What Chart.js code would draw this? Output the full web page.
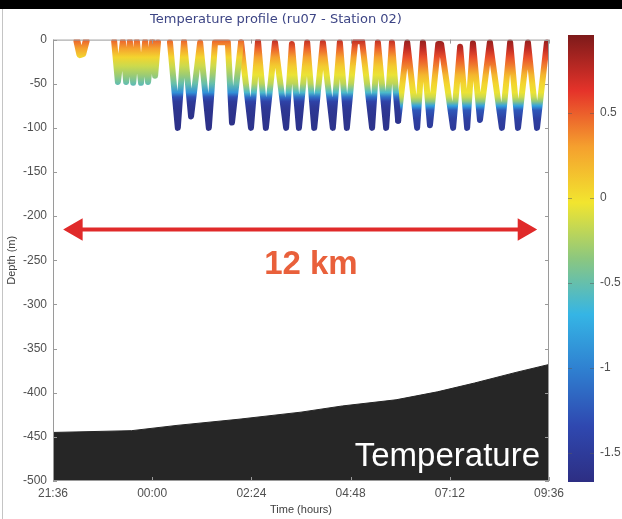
<!DOCTYPE html>
<html>
<head>
<meta charset="utf-8">
<script src="https://cdn.jsdelivr.net/npm/chart.js@4.4.1/dist/chart.umd.min.js"></script>
<style>
body { margin: 0; background: #fff; }
#wrap { position: relative; width: 622px; height: 519px; overflow: hidden; }
#plot { position: absolute; left: 0; top: 0; }
#bar { position: absolute; left: 560px; top: 0; }
#topbar { position: absolute; left: 0; top: 0; width: 622px; height: 9px; background: #000; }
#edge { position: absolute; left: 2px; top: 9px; width: 1px; height: 510px; background: #c4c4c4; }
</style>
</head>
<body>
<div id="wrap">
  <canvas id="plot" width="622" height="519"></canvas>
  <canvas id="bar" width="62" height="519"></canvas>
  <div id="edge"></div>
  <div id="topbar"></div>
</div>
<script>
// time axis: hours after 21:36
const START_CLOCK = 21 * 60 + 36;

// sea floor (black area)
const seafloorHours = [0, 1.9, 3, 4.5, 6, 7, 8.3, 9.3, 10.2, 11.2, 12];
const seafloorDepth = [-445, -443, -437, -430, -422, -415, -408, -399, -389, -377, -368];

// glider track, turning points
const blobHours = [0.58, 0.65, 0.72, 0.80];
const blobDepth = [-2, -17, -16, -2];

const shallowHours = [1.48, 1.57, 1.69, 1.77, 1.86, 1.94, 2.03, 2.13, 2.23, 2.30, 2.40, 2.47, 2.54];
const shallowDepth = [-2, -48, -2, -48, -2, -49, -2, -49, -2, -48, -2, -41, -3];

const earlyHours = [2.83, 3.02, 3.17, 3.34, 3.56, 3.77, 3.92, 4.23, 4.33, 4.55];
const earlyDepth = [-3, -100, -2, -87, -3, -100, -3, -3, -94, -3];

const midHours = [4.55, 4.79, 4.96, 5.15, 5.37, 5.64, 5.78, 5.95, 6.15, 6.32, 6.53, 6.77, 6.94, 7.11, 7.31, 7.48, 7.72, 7.86, 8.06, 8.20, 8.35];
const midDepth = [-3, -100, -2, -100, -3, -100, -5, -100, -3, -100, -3, -100, -3, -100, -2, -2, -100, -3, -100, -3, -92];

const lateHours = [8.35, 8.57, 8.81, 8.95, 9.12, 9.32, 9.39, 9.68, 9.85, 10.02, 10.16, 10.33, 10.57, 10.86, 11.06, 11.25, 11.49, 11.71, 11.95, 12.0];
const lateDepth = [-92, -3, -100, -3, -97, -5, -5, -100, -8, -100, -4, -91, -3, -100, -3, -100, -3, -100, -3, -15];

// temperature profiles (deg C) at these depths
const depthLevels = [0, -10, -20, -30, -40, -50, -60, -65, -70, -75, -80, -90, -100];
const earlyTemp = [0.5, 0.3, 0.05, -0.15, -0.3, -0.5, -0.9, -1.3, -1.5, -1.55, -1.6, -1.62, -1.63];
const midTemp = [0.75, 0.5, 0.3, 0.1, -0.05, -0.2, -0.6, -1.1, -1.4, -1.5, -1.55, -1.6, -1.6];
const lateTemp = [0.9, 0.75, 0.55, 0.4, 0.2, 0.05, -0.05, -0.15, -0.35, -0.8, -1.25, -1.45, -1.5];

// colour bar
const cbMin = -1.67;
const cbMax = 0.96;
const cbTickStep = 0.5;

// annotations
const arrowHours = [0.56, 11.4];
const arrowDepth = [-215, -215];
const kmLabel = '12 km';
const kmLabelAt = [6.24, -255];

const jetStops = [
  [0.0, [45, 46, 131]],
  [0.125, [47, 72, 176]],
  [0.25, [47, 127, 208]],
  [0.375, [53, 181, 229]],
  [0.5, [140, 199, 127]],
  [0.625, [242, 229, 47]],
  [0.75, [245, 160, 46]],
  [0.875, [229, 51, 42]],
  [1.0, [125, 26, 26]]
];

function jetColor(t) {
  let f = (t - cbMin) / (cbMax - cbMin);
  f = Math.min(1, Math.max(0, f));
  for (let i = 1; i < jetStops.length; i++) {
    if (f <= jetStops[i][0]) {
      const [f0, c0] = jetStops[i - 1];
      const [f1, c1] = jetStops[i];
      const k = (f - f0) / (f1 - f0);
      return 'rgb(' + c0.map((v, j) => Math.round(v + (c1[j] - v) * k)).join(',') + ')';
    }
  }
  return 'rgb(125,26,26)';
}

function profileGradient(chart, temps) {
  const {ctx, chartArea, scales} = chart;
  if (!chartArea) return '#888';
  const last = depthLevels[depthLevels.length - 1];
  const g = ctx.createLinearGradient(0, scales.y.getPixelForValue(0), 0, scales.y.getPixelForValue(last));
  depthLevels.forEach((d, i) => g.addColorStop(d / last, jetColor(temps[i])));
  return g;
}

function pts(hours, depth) {
  return hours.map((h, i) => ({x: h, y: depth[i]}));
}

function clockLabel(v) {
  const m = (START_CLOCK + Math.round(v * 60)) % 1440;
  return String(Math.floor(m / 60)).padStart(2, '0') + ':' + String(m % 60).padStart(2, '0');
}

function track(hours, depth, temps, width) {
  return {
    data: pts(hours, depth),
    showLine: true,
    pointRadius: 0,
    borderWidth: width,
    borderJoinStyle: 'round',
    borderCapStyle: 'round',
    borderColor: ctx => profileGradient(ctx.chart, temps),
    order: 1
  };
}

const tickFont = {family: 'Liberation Sans', size: 12};
const tickColor = '#505050';

const overlay = {
  id: 'overlay',
  afterDatasetsDraw(chart) {
    const {ctx, chartArea: a, scales: {x, y}} = chart;
    ctx.save();
    ctx.strokeStyle = '#9a9a9a';
    ctx.lineWidth = 1;
    ctx.strokeRect(a.left + 0.5, a.top + 0.5, a.right - a.left - 1, a.bottom - a.top - 1);
    ctx.beginPath();
    y.ticks.forEach(t => {
      const p = Math.round(y.getPixelForValue(t.value)) + 0.5;
      ctx.moveTo(a.left, p); ctx.lineTo(a.left + 4, p);
      ctx.moveTo(a.right, p); ctx.lineTo(a.right - 4, p);
    });
    x.ticks.forEach(t => {
      const p = Math.round(x.getPixelForValue(t.value)) + 0.5;
      ctx.moveTo(p, a.top); ctx.lineTo(p, a.top + 4);
      ctx.moveTo(p, a.bottom); ctx.lineTo(p, a.bottom - 4);
    });
    ctx.stroke();

    ctx.fillStyle = '#e9603b';
    ctx.font = 'bold 33px "Liberation Sans"';
    ctx.textAlign = 'center';
    ctx.textBaseline = 'middle';
    ctx.fillText(kmLabel, x.getPixelForValue(kmLabelAt[0]), y.getPixelForValue(kmLabelAt[1]));

    ctx.fillStyle = '#ffffff';
    ctx.font = '33px "Liberation Sans"';
    ctx.textAlign = 'right';
    ctx.textBaseline = 'alphabetic';
    ctx.fillText('Temperature', a.right - 9, a.bottom - 15);
    ctx.restore();
  }
};

new Chart(document.getElementById('plot'), {
  type: 'scatter',
  data: {
    datasets: [
      {
        data: pts(arrowHours, arrowDepth),
        showLine: true,
        borderColor: '#e02a2a',
        borderWidth: 4,
        pointStyle: 'triangle',
        pointRadius: 9,
        pointRotation: [-90, 90],
        pointBackgroundColor: '#e02a2a',
        pointBorderColor: '#e02a2a',
        order: 0
      },
      track(blobHours, blobDepth, earlyTemp, 7),
      track(shallowHours, shallowDepth, earlyTemp, 6),
      track(earlyHours, earlyDepth, earlyTemp, 6),
      track(midHours, midDepth, midTemp, 6),
      track(lateHours, lateDepth, lateTemp, 6),
      {
        data: pts(seafloorHours, seafloorDepth),
        showLine: true,
        pointRadius: 0,
        borderWidth: 1,
        borderColor: '#262626',
        backgroundColor: '#262626',
        fill: 'start',
        order: 2
      }
    ]
  },
  options: {
    responsive: false,
    animation: false,
    layout: {padding: {left: 3, right: 73, top: 0, bottom: 0}},
    plugins: {
      legend: {display: false},
      tooltip: {enabled: false},
      title: {
        display: true,
        text: 'Temperature profile (ru07 - Station 02)',
        color: '#3d4585',
        font: {family: 'DejaVu Sans', size: 13, weight: 'normal'},
        padding: {top: 12, bottom: 12}
      }
    },
    scales: {
      x: {
        type: 'linear',
        min: 0,
        max: 12,
        ticks: {stepSize: 2.4, callback: clockLabel, color: tickColor, font: tickFont, padding: 5, maxRotation: 0, autoSkip: false},
        grid: {display: false, drawTicks: false},
        border: {display: false},
        title: {display: true, text: 'Time (hours)', color: '#404040', font: {family: 'Liberation Sans', size: 11}, padding: {top: 0, bottom: 2}},
        afterFit: s => { s.height = 38; }
      },
      y: {
        min: -500,
        max: 0,
        ticks: {stepSize: 50, color: tickColor, font: tickFont, padding: 6},
        grid: {display: false, drawTicks: false},
        border: {display: false},
        title: {display: true, text: 'Depth (m)', color: '#404040', font: {family: 'Liberation Sans', size: 11}, padding: {top: 2, bottom: 0}},
        afterFit: s => { s.width = 50; }
      }
    }
  },
  plugins: [overlay]
});

function colorbarGradient(chart) {
  const {ctx, chartArea, scales} = chart;
  if (!chartArea) return '#888';
  const g = ctx.createLinearGradient(0, scales.y.getPixelForValue(cbMin), 0, scales.y.getPixelForValue(cbMax));
  jetStops.forEach(s => g.addColorStop(s[0], 'rgb(' + s[1].join(',') + ')'));
  return g;
}

const barTicks = {
  id: 'barTicks',
  afterDatasetsDraw(chart) {
    const {ctx, chartArea: a, scales: {y}} = chart;
    ctx.save();
    ctx.strokeStyle = 'rgba(90,90,90,0.5)';
    ctx.beginPath();
    y.ticks.forEach(t => {
      const p = Math.round(y.getPixelForValue(t.value)) + 0.5;
      ctx.moveTo(a.right, p); ctx.lineTo(a.right - 4, p);
      ctx.moveTo(a.left, p); ctx.lineTo(a.left + 4, p);
    });
    ctx.stroke();
    ctx.restore();
  }
};

new Chart(document.getElementById('bar'), {
  type: 'bar',
  data: {
    labels: [''],
    datasets: [{
      data: [[cbMin, cbMax]],
      backgroundColor: ctx => colorbarGradient(ctx.chart),
      barPercentage: 1,
      categoryPercentage: 1,
      borderWidth: 0
    }]
  },
  options: {
    responsive: false,
    animation: false,
    layout: {padding: {left: 8, top: 35, bottom: 37, right: 0}},
    plugins: {legend: {display: false}, tooltip: {enabled: false}},
    scales: {
      x: {display: false},
      y: {
        position: 'right',
        min: cbMin,
        max: cbMax,
        ticks: {
          stepSize: cbTickStep,
          includeBounds: false,
          callback: v => String(Math.round(v * 10) / 10),
          color: tickColor,
          font: tickFont,
          padding: 6
        },
        grid: {display: false, drawTicks: false},
        border: {display: false},
        afterFit: s => { s.width = 28; }
      }
    }
  },
  plugins: [barTicks]
});
</script>
</body>
</html>
